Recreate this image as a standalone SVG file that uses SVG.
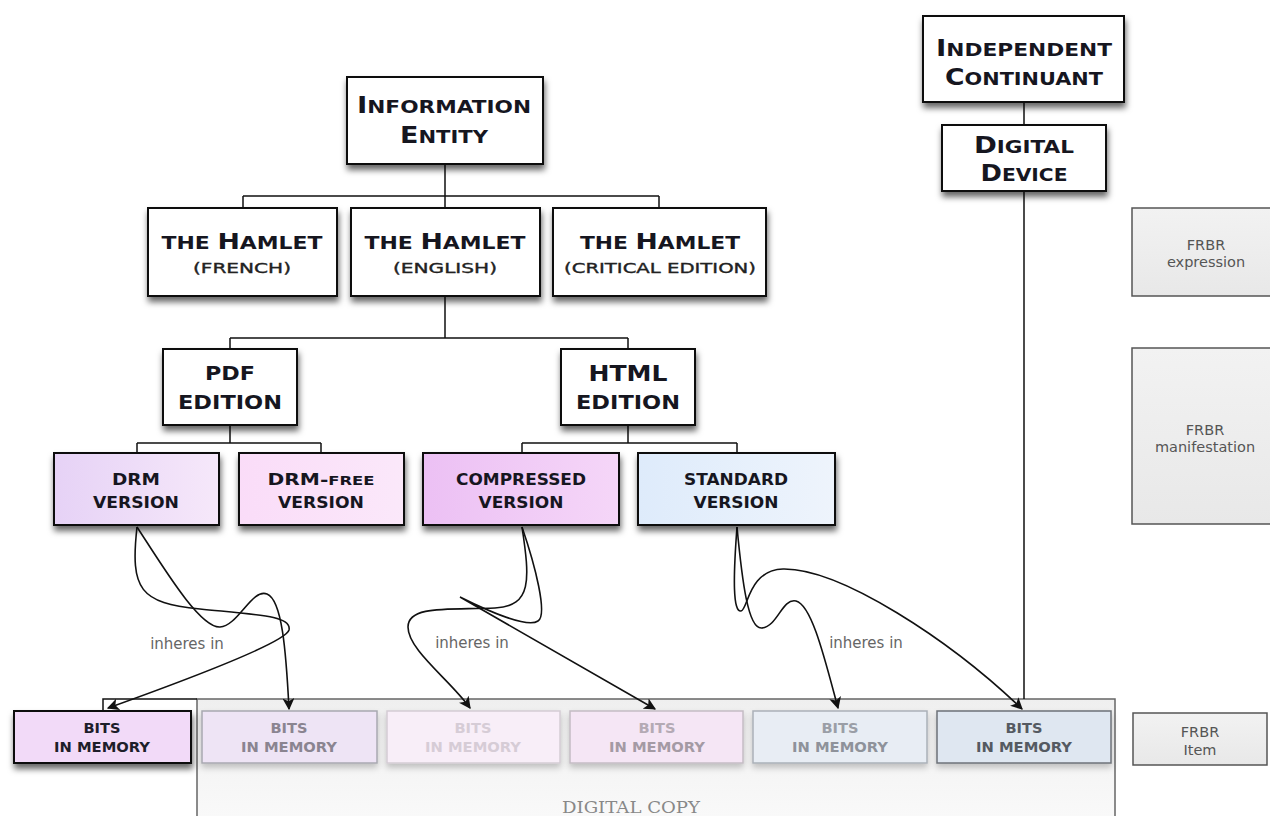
<svg xmlns="http://www.w3.org/2000/svg" width="1270" height="816" viewBox="0 0 1270 816">
<style>
.bx{fill:#fff;stroke:#111;stroke-width:2}
.cp{font-family:"DejaVu Sans",sans-serif;font-weight:bold;fill:#16161f;text-anchor:middle}
.sub{font-family:"DejaVu Sans",sans-serif;font-weight:normal;fill:#222;stroke:#222;stroke-width:0.35;text-anchor:middle;font-size:13.5px}
.ln{fill:none;stroke:#111;stroke-width:1.5}
.cv{fill:none;stroke:#111;stroke-width:1.6;marker-end:url(#ah)}
.lbl{font-family:"DejaVu Sans",sans-serif;font-size:15px;fill:#666;text-anchor:middle}
.fr{fill:url(#gg);stroke:#555;stroke-width:1.5}
.frt{font-family:"DejaVu Sans",sans-serif;font-size:14.5px;fill:#555;text-anchor:middle}
.bt{font-family:"DejaVu Sans",sans-serif;font-weight:bold;font-size:13.5px;text-anchor:middle}
</style>
<defs>
<filter id="sh" x="-20%" y="-20%" width="140%" height="170%"><feDropShadow dx="1" dy="5" stdDeviation="3" flood-color="#000" flood-opacity="0.6"/></filter>
<filter id="shl" x="-20%" y="-20%" width="140%" height="170%"><feDropShadow dx="0" dy="4" stdDeviation="3" flood-color="#000" flood-opacity="0.22"/></filter>
<linearGradient id="gg" x1="0" y1="0" x2="0" y2="1"><stop offset="0" stop-color="#f2f2f2"/><stop offset="1" stop-color="#e8e8e8"/></linearGradient>
<linearGradient id="gdc" x1="0" y1="0" x2="0" y2="1"><stop offset="0" stop-color="#efefef"/><stop offset="1" stop-color="#fafafa"/></linearGradient>
<linearGradient id="gdrm" x1="0" y1="0" x2="1" y2="0"><stop offset="0" stop-color="#e6d2f6"/><stop offset="1" stop-color="#f6e8fa"/></linearGradient>
<linearGradient id="gfree" x1="0" y1="0" x2="1" y2="0"><stop offset="0" stop-color="#fadcf8"/><stop offset="1" stop-color="#fbe8fa"/></linearGradient>
<linearGradient id="gcomp" x1="0" y1="0" x2="1" y2="0"><stop offset="0" stop-color="#ecc0f4"/><stop offset="1" stop-color="#f5d6f8"/></linearGradient>
<linearGradient id="gstd" x1="0" y1="0" x2="1" y2="0"><stop offset="0" stop-color="#deebfb"/><stop offset="1" stop-color="#eef4fc"/></linearGradient>
<marker id="ah" viewBox="0 0 10 10" refX="9" refY="5" markerWidth="12" markerHeight="12" markerUnits="userSpaceOnUse" orient="auto"><path d="M0,0 L10,5 L0,10 L2.5,5 z" fill="#111"/></marker>
</defs>
<rect width="1270" height="816" fill="#fff"/>

<g id="frbr-expression"><rect class="fr" x="1132" y="208" width="150" height="88"/><text class="frt" x="1206" y="250">FRBR</text><text class="frt" x="1206" y="267">expression</text></g>
<g id="frbr-manifestation"><rect class="fr" x="1132" y="348" width="150" height="176"/><text class="frt" x="1205" y="435">FRBR</text><text class="frt" x="1205" y="452">manifestation</text></g>
<g id="frbr-item"><rect class="fr" x="1133" y="713" width="134" height="52"/><text class="frt" x="1200" y="737">FRBR</text><text class="frt" x="1200" y="755">Item</text></g>

<g id="digital-copy"><rect x="197" y="699" width="918" height="130" fill="url(#gdc)" stroke="#666" stroke-width="1.5"/><text x="631" y="813" textLength="138" lengthAdjust="spacingAndGlyphs" style="font-family:'DejaVu Serif',serif;font-size:17px;fill:#888;text-anchor:middle">DIGITAL COPY</text></g>

<g id="connectors">
<path class="ln" d="M445,164 V196 M243,196 H659 M243,196 V208 M445,196 V208 M659,196 V208"/>
<path class="ln" d="M445,296 V338 M230,338 H628 M230,338 V349 M628,338 V349"/>
<path class="ln" d="M230,425 V443 M137,443 H321 M137,443 V453 M321,443 V453"/>
<path class="ln" d="M628,425 V443 M522,443 H737 M522,443 V453 M737,443 V453"/>
<path class="ln" d="M1024,102 V125 M1024,191 V699"/>
<path class="ln" d="M103,711 V699 H197"/>
<path class="cv" d="M137,527 C130,590 140,603 200,609 C260,615 292,616 289,630 C286,642 200,675 108,708"/>
<path class="cv" d="M137,527 C165,570 200,628 220,627 C238,626 252,588 267,594 C282,600 286,650 289,709"/>
<path class="cv" d="M522,527 C530,580 532,606 495,608 C450,610 408,605 408,627 C408,650 450,680 470,708"/>
<path class="cv" d="M522,527 C535,565 548,615 538,621 C528,628 490,612 460,597 L655,709"/>
<path class="cv" d="M737,527 C742,580 748,630 762,628 C778,626 782,598 796,601 C812,605 825,660 838,708"/>
<path class="cv" d="M737,527 C733,580 733,612 741,611 C748,610 748,570 783,569 C840,568 950,640 1022,709"/>
<text class="lbl" x="187" y="649">inheres in</text>
<text class="lbl" x="472" y="648">inheres in</text>
<text class="lbl" x="866" y="648">inheres in</text>
</g>

<g id="independent-continuant"><rect class="bx" x="923" y="16" width="201" height="86" filter="url(#sh)"/>
<text class="cp" x="1024" y="56" textLength="176" lengthAdjust="spacingAndGlyphs"><tspan font-size="23">I</tspan><tspan font-size="18">NDEPENDENT</tspan></text>
<text class="cp" x="1024" y="85" textLength="158" lengthAdjust="spacingAndGlyphs"><tspan font-size="23">C</tspan><tspan font-size="18">ONTINUANT</tspan></text></g>

<g id="digital-device"><rect class="bx" x="942" y="125" width="164" height="66" filter="url(#sh)"/>
<text class="cp" x="1024" y="153" textLength="100" lengthAdjust="spacingAndGlyphs"><tspan font-size="23">D</tspan><tspan font-size="18">IGITAL</tspan></text>
<text class="cp" x="1024" y="181" textLength="87" lengthAdjust="spacingAndGlyphs"><tspan font-size="23">D</tspan><tspan font-size="18">EVICE</tspan></text></g>

<g id="information-entity"><rect class="bx" x="347" y="77" width="196" height="87" filter="url(#sh)"/>
<text class="cp" x="444" y="113" textLength="174" lengthAdjust="spacingAndGlyphs"><tspan font-size="23">I</tspan><tspan font-size="18">NFORMATION</tspan></text>
<text class="cp" x="444" y="143" textLength="88" lengthAdjust="spacingAndGlyphs"><tspan font-size="23">E</tspan><tspan font-size="18">NTITY</tspan></text></g>

<g id="hamlet-french"><rect class="bx" x="148" y="208" width="189" height="88" filter="url(#sh)"/>
<text class="cp" x="242" y="249" textLength="161" lengthAdjust="spacingAndGlyphs"><tspan font-size="18">THE </tspan><tspan font-size="22">H</tspan><tspan font-size="18">AMLET</tspan></text>
<text class="sub" x="242" y="273" textLength="98" lengthAdjust="spacingAndGlyphs">(FRENCH)</text></g>

<g id="hamlet-english"><rect class="bx" x="351" y="208" width="189" height="88" filter="url(#sh)"/>
<text class="cp" x="445" y="249" textLength="161" lengthAdjust="spacingAndGlyphs"><tspan font-size="18">THE </tspan><tspan font-size="22">H</tspan><tspan font-size="18">AMLET</tspan></text>
<text class="sub" x="445" y="273" textLength="104" lengthAdjust="spacingAndGlyphs">(ENGLISH)</text></g>

<g id="hamlet-critical"><rect class="bx" x="553" y="208" width="213" height="88" filter="url(#sh)"/>
<text class="cp" x="660" y="249" textLength="160" lengthAdjust="spacingAndGlyphs"><tspan font-size="18">THE </tspan><tspan font-size="22">H</tspan><tspan font-size="18">AMLET</tspan></text>
<text class="sub" x="660" y="273" textLength="192" lengthAdjust="spacingAndGlyphs">(CRITICAL EDITION)</text></g>

<g id="pdf-edition"><rect class="bx" x="163" y="349" width="134" height="76" filter="url(#sh)"/>
<text class="cp" x="230" y="380" font-size="19" textLength="50" lengthAdjust="spacingAndGlyphs">PDF</text>
<text class="cp" x="230" y="409" font-size="19" textLength="104" lengthAdjust="spacingAndGlyphs">EDITION</text></g>

<g id="html-edition"><rect class="bx" x="561" y="349" width="134" height="76" filter="url(#sh)"/>
<text class="cp" x="628" y="381" font-size="22" textLength="79" lengthAdjust="spacingAndGlyphs">HTML</text>
<text class="cp" x="628" y="409" font-size="19" textLength="104" lengthAdjust="spacingAndGlyphs">EDITION</text></g>

<g id="drm-version"><rect class="bx" x="54" y="453" width="165" height="72" style="fill:url(#gdrm)" filter="url(#sh)"/>
<text class="cp" x="136" y="485" font-size="16" textLength="48" lengthAdjust="spacingAndGlyphs">DRM</text>
<text class="cp" x="136" y="508" font-size="15" textLength="86" lengthAdjust="spacingAndGlyphs">VERSION</text></g>

<g id="drm-free-version"><rect class="bx" x="239" y="453" width="165" height="72" style="fill:url(#gfree)" filter="url(#sh)"/>
<text class="cp" x="321" y="485" textLength="107" lengthAdjust="spacingAndGlyphs"><tspan font-size="16">DRM-</tspan><tspan font-size="13">FREE</tspan></text>
<text class="cp" x="321" y="508" font-size="15" textLength="86" lengthAdjust="spacingAndGlyphs">VERSION</text></g>

<g id="compressed-version"><rect class="bx" x="423" y="453" width="196" height="72" style="fill:url(#gcomp)" filter="url(#sh)"/>
<text class="cp" x="521" y="485" font-size="15" textLength="130" lengthAdjust="spacingAndGlyphs">COMPRESSED</text>
<text class="cp" x="521" y="508" font-size="15" textLength="85" lengthAdjust="spacingAndGlyphs">VERSION</text></g>

<g id="standard-version"><rect class="bx" x="638" y="453" width="197" height="72" style="fill:url(#gstd)" filter="url(#sh)"/>
<text class="cp" x="736" y="485" font-size="15" textLength="104" lengthAdjust="spacingAndGlyphs">STANDARD</text>
<text class="cp" x="736" y="508" font-size="15" textLength="85" lengthAdjust="spacingAndGlyphs">VERSION</text></g>

<g id="bits-1"><rect x="14" y="711" width="177" height="52" fill="#f2daf8" stroke="#111" stroke-width="2" filter="url(#sh)"/>
<text class="bt" x="102" y="733" fill="#1e1e2a" textLength="37" lengthAdjust="spacingAndGlyphs">BITS</text>
<text class="bt" x="102" y="752" fill="#1e1e2a" textLength="96" lengthAdjust="spacingAndGlyphs">IN MEMORY</text></g>
<g id="bits-2"><rect x="202" y="711" width="175" height="52" fill="#eee4f5" stroke="#a8a8b0" stroke-width="1.5" filter="url(#shl)"/>
<text class="bt" x="289" y="733" fill="#8a8490" textLength="37" lengthAdjust="spacingAndGlyphs">BITS</text>
<text class="bt" x="289" y="752" fill="#8a8490" textLength="96" lengthAdjust="spacingAndGlyphs">IN MEMORY</text></g>
<g id="bits-3"><rect x="387" y="711" width="173" height="52" fill="#f8eef8" stroke="#d4ccd4" stroke-width="1.5" filter="url(#shl)"/>
<text class="bt" x="473" y="733" fill="#d6ccd6" textLength="37" lengthAdjust="spacingAndGlyphs">BITS</text>
<text class="bt" x="473" y="752" fill="#d6ccd6" textLength="96" lengthAdjust="spacingAndGlyphs">IN MEMORY</text></g>
<g id="bits-4"><rect x="570" y="711" width="173" height="52" fill="#f5e6f5" stroke="#c4bcc4" stroke-width="1.5" filter="url(#shl)"/>
<text class="bt" x="657" y="733" fill="#b4aab4" textLength="37" lengthAdjust="spacingAndGlyphs">BITS</text>
<text class="bt" x="657" y="752" fill="#a49aa4" textLength="96" lengthAdjust="spacingAndGlyphs">IN MEMORY</text></g>
<g id="bits-5"><rect x="753" y="711" width="174" height="52" fill="#e8edf4" stroke="#aab0b8" stroke-width="1.5" filter="url(#shl)"/>
<text class="bt" x="840" y="733" fill="#9a9ea6" textLength="37" lengthAdjust="spacingAndGlyphs">BITS</text>
<text class="bt" x="840" y="752" fill="#8e929a" textLength="96" lengthAdjust="spacingAndGlyphs">IN MEMORY</text></g>
<g id="bits-6"><rect x="937" y="711" width="174" height="52" fill="#dfe7f1" stroke="#6e7278" stroke-width="1.5" filter="url(#shl)"/>
<text class="bt" x="1024" y="733" fill="#555a62" textLength="37" lengthAdjust="spacingAndGlyphs">BITS</text>
<text class="bt" x="1024" y="752" fill="#555a62" textLength="96" lengthAdjust="spacingAndGlyphs">IN MEMORY</text></g>
</svg>
